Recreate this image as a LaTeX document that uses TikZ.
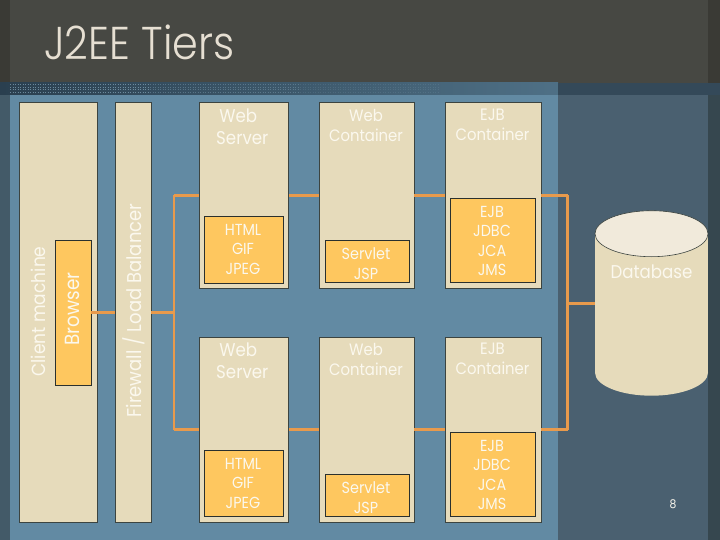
\documentclass[tikz,border=0pt]{standalone}
\usepackage{fontspec}
\setmainfont[FakeStretch=0.9]{Poppins}
\newfontfamily\titlefont[FakeStretch=0.9]{Poppins Light}
\usetikzlibrary{shapes.geometric}
\definecolor{blueA}{HTML}{628AA3}
\definecolor{blueB}{HTML}{4A6070}
\definecolor{blueC}{HTML}{435A68}
\definecolor{blueD}{HTML}{36474F}
\definecolor{topA}{HTML}{474843}
\definecolor{topB}{HTML}{3A3A35}
\definecolor{stripe}{HTML}{2A3F4F}
\definecolor{cream}{HTML}{E6DBBB}
\definecolor{creamL}{HTML}{F1EADB}
\definecolor{gold}{HTML}{FEC75F}
\definecolor{wire}{HTML}{E89A4C}
\definecolor{edge}{HTML}{3C4440}
\definecolor{txt}{HTML}{FBF8EE}
\tikzset{
 x=1pt,y=-1pt,
 outerbox/.style={draw=edge,line width=0.8pt,fill=cream,inner sep=0},
 innerbox/.style={draw=edge!70!black,line width=0.8pt,fill=gold,inner sep=0},
 wirepath/.style={draw=wire,line width=2.4pt},
 lbl/.style={text=txt,font=\fontsize{16.5}{20}\selectfont,align=center,inner sep=0},
 lblb/.style={text=txt,font=\fontsize{18.5}{22}\selectfont,align=center,inner sep=0},
 lbls/.style={text=txt,font=\fontsize{16}{19.5}\selectfont,align=center,inner sep=0},
 dots/.style={draw=blueA!80!white,line width=1pt,dash pattern=on 1pt off 1.5pt}
}
\newcommand{\boxat}[6][outerbox]{%
 \node[#1,minimum width=#4-#3,minimum height=#6-#5,anchor=north west] (#2) at (#3,#5) {};}
\begin{document}
\begin{tikzpicture}
\useasboundingbox (0,0) rectangle (720,540);
% background
\fill[blueA] (0,0) rectangle (720,540);
\fill[blueC] (0,83) rectangle (10,540);
\fill[blueB] (558,83) rectangle (708,540);
\fill[blueD] (708,83) rectangle (720,540);
\fill[topA] (0,0) rectangle (720,83);
\fill[topB] (0,0) rectangle (10,83);
\fill[topB] (708,0) rectangle (720,83);
\shade[left color=stripe,right color=blueA!65!stripe] (0,83) rectangle (558,95);
\fill[stripe!70!blueB] (558,83) rectangle (720,95);
\foreach \yy in {85,87.5,90,92.5}{
 \draw[dots,opacity=.75] (10,\yy) -- (150,\yy);
 \draw[dots,opacity=.45] (150,\yy) -- (300,\yy);
 \draw[dots,opacity=.2] (300,\yy) -- (440,\yy);
}
\node[anchor=base west,text=creamL!90!gray,font=\titlefont\fontsize{46}{50}\selectfont,inner sep=0] (title) at (44,59.5) {J2EE Tiers};
% connector anchors
\coordinate (tL1) at (174,195.5);
\coordinate (tL2) at (174,429.5);
\coordinate (tLm) at (174,312.5);
\coordinate (tR1) at (567.5,195.5);
\coordinate (tR2) at (567.5,429.5);
\coordinate (tRm) at (567.5,303.5);
% boxes
\boxat{client}{18.5}{96.5}{102.5}{522}
\boxat{fw}{115}{150.5}{102.5}{522}
\boxat{ws1}{199}{288}{102.5}{288}
\boxat{ws2}{199}{288}{336.5}{522}
\boxat{wc1}{318.5}{413.5}{102.5}{288}
\boxat{wc2}{318.5}{413.5}{336.5}{522}
\boxat{ec1}{444.7}{540.5}{102.5}{288}
\boxat{ec2}{444.7}{540.5}{336.5}{522}
% connectors
\draw[wirepath] (tL1) -- (tL2);
\draw[wirepath] (tR1) -- (tR2);
\draw[wirepath] (tL1) -- (tL1 -| ws1.west);
\draw[wirepath] (tL2) -- (tL2 -| ws2.west);
\draw[wirepath] (tL1 -| ws1.east) -- (tL1 -| wc1.west);
\draw[wirepath] (tL2 -| ws2.east) -- (tL2 -| wc2.west);
\draw[wirepath] (tL1 -| wc1.east) -- (tL1 -| ec1.west);
\draw[wirepath] (tL2 -| wc2.east) -- (tL2 -| ec2.west);
\draw[wirepath] (tR1 -| ec1.east) -- (tR1);
\draw[wirepath] (tR2 -| ec2.east) -- (tR2);
\draw[wirepath] (tLm -| fw.east) -- (tLm);
% inner boxes
\boxat[innerbox]{br}{54.5}{90.5}{240}{384.5}
\boxat[innerbox]{st1}{204}{282.5}{216}{282.5}
\boxat[innerbox]{st2}{204}{282.5}{450.3}{516.3}
\boxat[innerbox]{sv1}{324.5}{408.5}{240.3}{282.3}
\boxat[innerbox]{sv2}{324.5}{408.5}{474.3}{516.3}
\boxat[innerbox]{ej1}{450.3}{534.7}{198.3}{282.3}
\boxat[innerbox]{ej2}{450.3}{534.7}{432.3}{516.3}
\draw[wirepath] (br.east |- tLm) -- (fw.west |- tLm);
% database
\fill[cream] (595,233.7) rectangle (708,372.7);
\fill[cream] (651.5,372.7) ellipse [x radius=56.5,y radius=23];
\node[ellipse,draw=edge,line width=0.6pt,fill=creamL,minimum width=113pt,minimum height=46pt,inner sep=0] (dbtop) at (651.5,233.7) {};
\coordinate (dbw) at (595,303.5);
\draw[wirepath] (tRm) -- (dbw);
\node[lblb] (dbl) at (651.5,272) {Database};
% labels
\node[lblb,rotate=90,font=\fontsize{19}{22}\selectfont] (l1) at (38,311.5) {Client machine};
\node[lblb,rotate=90,font=\fontsize{20.5}{22}\selectfont] (l2) at (72.5,309) {Browser};
\node[lblb,rotate=90,font=\fontsize{20}{22}\selectfont] (l3) at (133.5,310.5) {Firewall / Load Balancer};
\node[lblb,anchor=north west,align=left] (t1) at (216,108.5) {\,Web\\Server};
\node[lblb,anchor=north west,align=left] (t2) at (216,342.5) {\,Web\\Server};
\node[lbl] (t3) at (366,125) {Web\\Container};
\node[lbl] (t4) at (366,359) {Web\\Container};
\node[lbl] (t5) at (492.5,125) {EJB\\Container};
\node[lbl] (t6) at (492.5,359) {EJB\\Container};
\node[lbls] (t7) at (243,249) {HTML\\GIF\\JPEG};
\node[lbls] (t8) at (243,483) {HTML\\GIF\\JPEG};
\node[lbls,font=\fontsize{16}{20}\selectfont] (t9) at (366,264) {Servlet\\JSP};
\node[lbls,font=\fontsize{16}{20}\selectfont] (t10) at (366,498) {Servlet\\JSP};
\node[lbls] (t11) at (492,241) {EJB\\JDBC\\JCA\\JMS};
\node[lbls] (t12) at (492,475) {EJB\\JDBC\\JCA\\JMS};
\node[lbl,font=\fontsize{12}{14}\selectfont] (num) at (673,504) {8};
\end{tikzpicture}
\end{document}
